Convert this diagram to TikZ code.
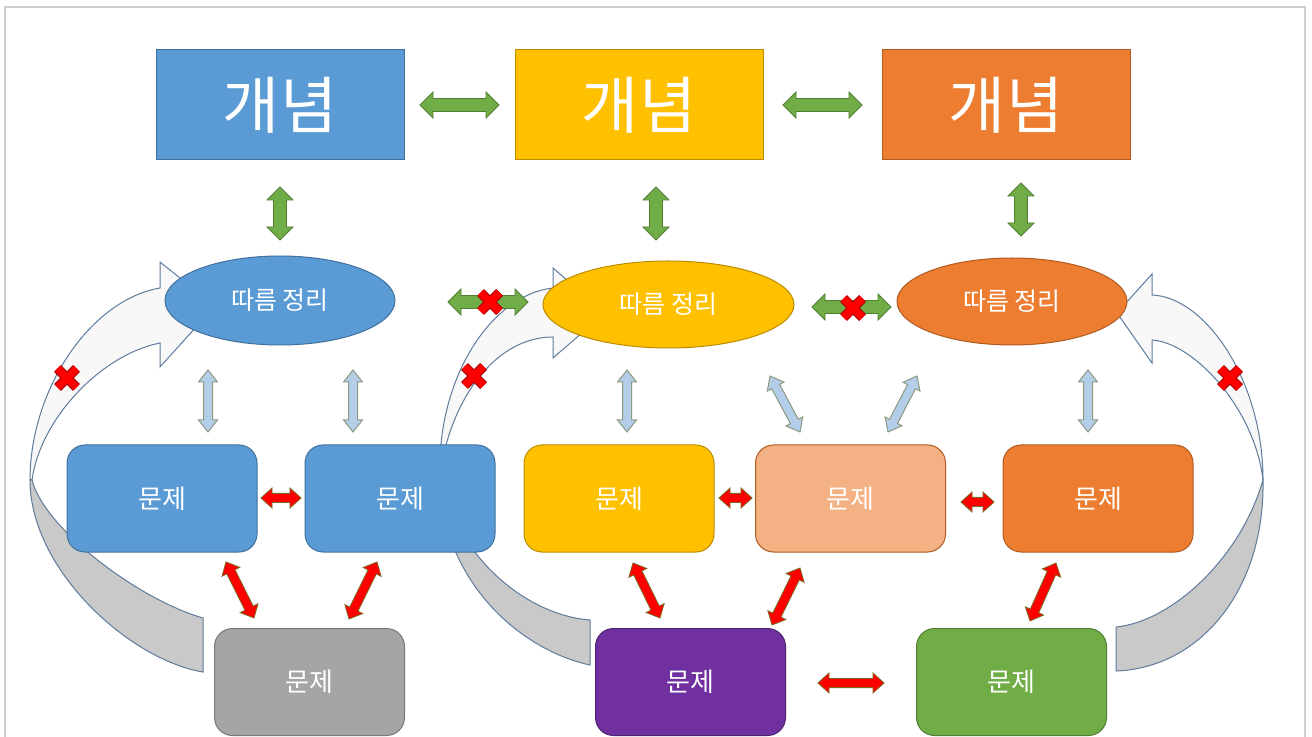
\documentclass[tikz,border=0pt]{standalone}
\usepackage{fontspec}
\newfontfamily\kr{Noto Sans CJK KR}
\usetikzlibrary{calc,shapes.geometric}
\definecolor{cblue}{HTML}{5B9BD5}\definecolor{cblueD}{HTML}{41719C}
\definecolor{cyel}{HTML}{FFC000}\definecolor{cyelD}{HTML}{BC8C00}
\definecolor{corg}{HTML}{ED7D31}\definecolor{corgD}{HTML}{AE5A21}
\definecolor{cpeach}{HTML}{F4B183}
\definecolor{cgray}{HTML}{A5A5A5}\definecolor{cgrayD}{HTML}{787878}
\definecolor{cpurp}{HTML}{7030A0}\definecolor{cpurpD}{HTML}{4E2272}
\definecolor{cgreen}{HTML}{70AD47}\definecolor{cgreenD}{HTML}{507E32}
\definecolor{clb}{HTML}{B4CDE8}\definecolor{clbD}{HTML}{8C9A80}
\definecolor{cband}{HTML}{F8F8F8}\definecolor{cback}{HTML}{C9C9C9}\definecolor{cbandD}{HTML}{5E7B9C}
\definecolor{cframe}{HTML}{CFCFCF}\definecolor{credD}{HTML}{B00000}\definecolor{credB}{HTML}{7A6A20}
\tikzset{
  blk/.style n args={3}{to path={(\tikztostart)
    -- ($(\tikztostart)!#1!(\tikztotarget)!#2!90:(\tikztotarget)$)
    -- ($(\tikztostart)!#1!(\tikztotarget)!#3!90:(\tikztotarget)$)
    -- ($(\tikztotarget)!#1!(\tikztostart)!#3!270:(\tikztostart)$)
    -- ($(\tikztotarget)!#1!(\tikztostart)!#2!270:(\tikztostart)$)
    -- (\tikztotarget)
    -- ($(\tikztotarget)!#1!(\tikztostart)!#2!90:(\tikztostart)$)
    -- ($(\tikztotarget)!#1!(\tikztostart)!#3!90:(\tikztostart)$)
    -- ($(\tikztostart)!#1!(\tikztotarget)!#3!270:(\tikztotarget)$)
    -- ($(\tikztostart)!#1!(\tikztotarget)!#2!270:(\tikztotarget)$)
    -- cycle}},
  garr/.style={blk={6.5pt}{6.5pt}{3.25pt}, fill=cgreen, draw=cgreenD, line width=0.4pt},
  larr/.style={blk={6pt}{4.75pt}{2.25pt}, fill=clb, draw=clbD, line width=0.5pt},
  rarr/.style={blk={5.5pt}{5pt}{2.3pt}, fill=red, draw=credB, line width=0.4pt},
  concept/.style 2 args={draw=#2, fill=#1, line width=0.5pt, minimum width=124pt,
    minimum height=55pt, inner sep=0pt, text=white, font=\kr\fontsize{31}{31}\selectfont},
  theorem/.style 2 args={ellipse, draw=#2, fill=#1, line width=0.5pt, inner sep=0pt,
    text=white, font=\kr\fontsize{12.5}{12.5}\selectfont},
  problem/.style 2 args={draw=#2, fill=#1, line width=0.5pt, rounded corners=9pt,
    minimum width=95pt, minimum height=53.5pt, inner sep=0pt, text=white,
    font=\kr\fontsize{13}{13}\selectfont},
  band/.style={fill=cband, draw=cbandD, line width=0.5pt},
  backband/.style={fill=cback, draw=cbandD, line width=0.5pt},
  redx/.pic={
    \draw[credD, line width=4.8pt] (-9.5,-9.5) -- (9.5,9.5) (-9.5,9.5) -- (9.5,-9.5);
    \draw[red, line width=3.7pt] (-9.5,-9.5) -- (9.5,9.5) (-9.5,9.5) -- (9.5,-9.5);
  }
}
\begin{document}
\begin{tikzpicture}[x=0.5pt,y=-0.5pt]
\useasboundingbox (0,0) rectangle (1312,737);
\fill[white] (0,0) rectangle (1312,737);
\draw[cframe, line width=0.6pt] (5,737) -- (5,7) -- (1305,7) -- (1305,737);

% curved arrows (background)
\draw[band] (30,480) .. controls (30,390) and (90,300) .. (160,288) -- (160,262) -- (215,306)
  -- (160,367) -- (160,343) .. controls (100,355) and (40,420) .. (32,480) -- cycle;
\draw[backband] (30,480) .. controls (30,570) and (130,660) .. (203,672) -- (203,618)
  .. controls (140,600) and (45,530) .. (32,480) -- cycle;
\draw[band] (440,475) .. controls (437,380) and (490,295) .. (553,288) -- (553,268) -- (605,313)
  -- (553,358) -- (553,337) .. controls (495,337) and (450,400) .. (440,475) -- cycle;
\draw[backband] (440,475) .. controls (440,580) and (520,650) .. (590,665) -- (590,620)
  .. controls (525,615) and (455,555) .. (440,475) -- cycle;
\draw[band] (1263,480) .. controls (1263,380) and (1205,297) .. (1152,295) -- (1152,274) -- (1117,313)
  -- (1152,363) -- (1152,340) .. controls (1195,343) and (1255,410) .. (1263,480) -- cycle;
\draw[backband] (1263,480) .. controls (1265,590) and (1200,668) .. (1116,671) -- (1116,627)
  .. controls (1170,622) and (1240,560) .. (1263,480) -- cycle;

% concepts
\node[concept={cblue}{cblueD}] (c1) at (280,105) {개념};
\node[concept={cyel}{cyelD}] (c2) at (639,105) {개념};
\node[concept={corg}{corgD}] (c3) at (1006,105) {개념};

% theorems
\node[theorem={cblue}{cblueD}, minimum width=115pt, minimum height=44.5pt] (t1) at (280,300.5) {따름 정리};
\node[theorem={cyel}{cyelD}, minimum width=125.5pt, minimum height=43.5pt] (t2) at (668.5,304.5) {따름 정리};
\node[theorem={corg}{corgD}, minimum width=115pt, minimum height=43.5pt] (t3) at (1012,301.5) {따름 정리};

% problems
\node[problem={cblue}{cblueD}] (p1) at (162,498.5) {문제};
\node[problem={cblue}{cblueD}] (p2) at (400,498.5) {문제};
\node[problem={cyel}{cyelD}] (p3) at (619,498.5) {문제};
\node[problem={cpeach}{corgD}] (p4) at (850.5,498.5) {문제};
\node[problem={corg}{corgD}] (p5) at (1098,498.5) {문제};
\node[problem={cgray}{cgrayD}] (q1) at (309.5,682) {문제};
\node[problem={cpurp}{cpurpD}] (q2) at (690.5,682) {문제};
\node[problem={cgreen}{cgreenD}] (q3) at (1011.5,682) {문제};

% arrow end points
\coordinate (g1a) at (420,105); \coordinate (g1b) at (499,105);
\coordinate (g2a) at (783,105); \coordinate (g2b) at (862,105);
\coordinate (v1a) at (280,187); \coordinate (v1b) at (280,240);
\coordinate (v2a) at (656,187); \coordinate (v2b) at (656,240);
\coordinate (v3a) at (1021,183); \coordinate (v3b) at (1021,236);
\coordinate (e1a) at (448,302); \coordinate (e1b) at (528,302);
\coordinate (e2a) at (812,307); \coordinate (e2b) at (891,307);
\coordinate (l1a) at (208,370); \coordinate (l1b) at (208,432);
\coordinate (l2a) at (353,370); \coordinate (l2b) at (353,432);
\coordinate (l3a) at (627,370); \coordinate (l3b) at (627,432);
\coordinate (l4a) at (770,376); \coordinate (l4b) at (800,432);
\coordinate (l5a) at (917,376); \coordinate (l5b) at (888,432);
\coordinate (l6a) at (1088,370); \coordinate (l6b) at (1088,432);
\coordinate (h1a) at (261,498); \coordinate (h1b) at (301,498);
\coordinate (h2a) at (719,498); \coordinate (h2b) at (752,498);
\coordinate (h3a) at (961,502); \coordinate (h3b) at (994,502);
\coordinate (h4a) at (818,683); \coordinate (h4b) at (884,683);
\coordinate (d1a) at (226,562); \coordinate (d1b) at (254,618);
\coordinate (d2a) at (377,562); \coordinate (d2b) at (349,619);
\coordinate (d3a) at (633,563); \coordinate (d3b) at (660,618);
\coordinate (d4a) at (800,568); \coordinate (d4b) at (772,625);
\coordinate (d5a) at (1056,563); \coordinate (d5b) at (1030,621);

\draw[garr] (g1a) to (g1b);
\draw[garr] (g2a) to (g2b);
\draw[garr] (v1a) to (v1b);
\draw[garr] (v2a) to (v2b);
\draw[garr] (v3a) to (v3b);
\draw[garr] (e1a) to (e1b);
\draw[garr] (e2a) to (e2b);
\draw[larr] (l1a) to (l1b);
\draw[larr] (l2a) to (l2b);
\draw[larr] (l3a) to (l3b);
\draw[larr] (l4a) to (l4b);
\draw[larr] (l5a) to (l5b);
\draw[larr] (l6a) to (l6b);
\draw[rarr] (h1a) to (h1b);
\draw[rarr] (h2a) to (h2b);
\draw[rarr] (h3a) to (h3b);
\draw[rarr] (h4a) to (h4b);
\draw[rarr] (d1a) to (d1b);
\draw[rarr] (d2a) to (d2b);
\draw[rarr] (d3a) to (d3b);
\draw[rarr] (d4a) to (d4b);
\draw[rarr] (d5a) to (d5b);

% red crosses
\pic at (67,378) {redx};
\pic at (474,376) {redx};
\pic at (490,302) {redx};
\pic at (853,308) {redx};
\pic at (1230,378) {redx};
\end{tikzpicture}
\end{document}
